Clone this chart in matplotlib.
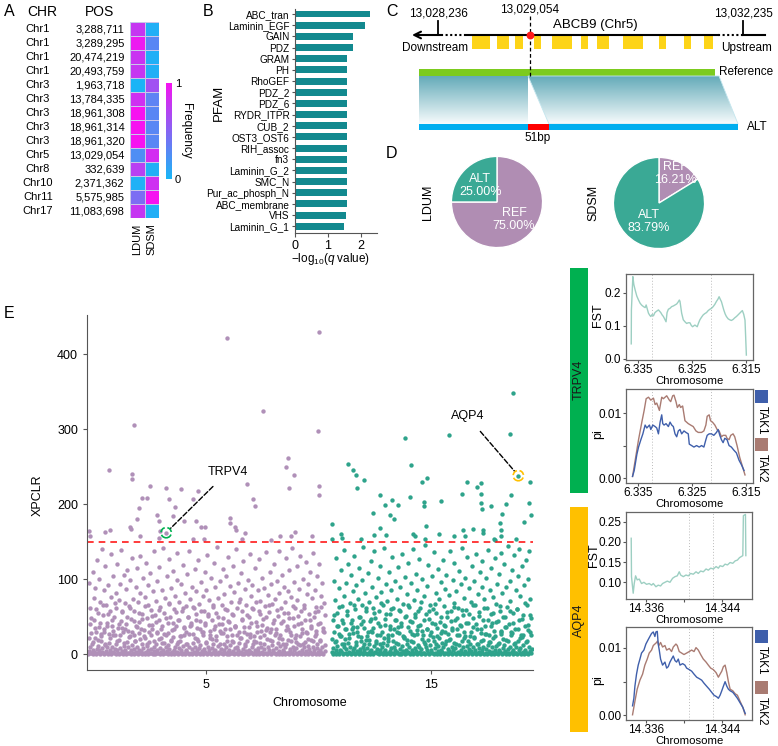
import numpy as np
import matplotlib.pyplot as plt
from matplotlib.patches import Rectangle, Polygon
from matplotlib.colors import LinearSegmentedColormap
from matplotlib.transforms import blended_transform_factory

W, H = 778, 746
plt.rcParams['font.family'] = ['Liberation Sans', 'DejaVu Sans']
plt.rcParams['mathtext.fontset'] = 'custom'
plt.rcParams['mathtext.rm'] = 'Liberation Sans'
plt.rcParams['mathtext.it'] = 'Liberation Sans:italic'

# ---------------- data ----------------
# A: ALT allele frequency of the shared variants
chr_names = ['Chr1', 'Chr1', 'Chr1', 'Chr1', 'Chr3', 'Chr3', 'Chr3', 'Chr3', 'Chr3',
             'Chr5', 'Chr8', 'Chr10', 'Chr11', 'Chr17']
positions = ['3,288,711', '3,289,295', '20,474,219', '20,493,759', '1,963,718', '13,784,335',
             '18,961,308', '18,961,314', '18,961,320', '13,029,054', '332,639', '2,371,362',
             '5,575,985', '11,083,698']
freq_ldum = [0.78, 0.95, 0.8, 0.78, 0.02, 0.82, 1.0, 1.0, 1.0, 0.25, 0.72, 0.04, 0.45, 0.78]
freq_sdsm = [0.05, 0.3, 0.05, 0.05, 0.62, 0.32, 0.3, 0.3, 0.3, 0.84, 0.05, 0.82, 1.0, 0.05]
groups = ['LDUM', 'SDSM']

# B: PFAM enrichment
pfam = ['ABC_tran', 'Laminin_EGF', 'GAIN', 'PDZ', 'GRAM', 'PH', 'RhoGEF', 'PDZ_2', 'PDZ_6',
        'RYDR_ITPR', 'CUB_2', 'OST3_OST6', 'RIH_assoc', 'fn3', 'Laminin_G_2', 'SMC_N',
        'Pur_ac_phosph_N', 'ABC_membrane', 'VHS', 'Laminin_G_1']
neg_log_q = [2.28, 2.12, 1.76, 1.76, 1.6, 1.6, 1.6, 1.6, 1.6, 1.6, 1.6, 1.6, 1.6, 1.6,
             1.6, 1.6, 1.6, 1.6, 1.55, 1.49]

# C: ABCB9 gene model (schematic units)
exon_start = [472, 497, 515, 534, 552, 581, 597, 623, 659, 684, 704]
exon_end = [490, 509, 523, 541, 572, 588, 609, 643, 666, 691, 713]

# D: allele proportions
ref_pct = [75.00, 16.21]
alt_pct = [25.00, 83.79]

# E: XP-CLR scan
pink_base = [
    0, 4, 1, 9, 2, 14, 0, 6, 3, 22, 1, 0, 7, 11, 2, 5, 0, 17, 3, 8, 1, 30, 0, 12, 4, 2, 9, 0, 15, 6,
    2, 0, 10, 3, 26, 1, 7, 0, 13, 5, 2, 19, 0, 8, 1, 4, 35, 0, 11, 3, 6, 0, 16, 2, 9, 1, 24, 0, 5, 12,
    1, 7, 0, 18, 3, 2, 10, 0, 6, 28, 1, 4, 14, 0, 8, 2, 21, 0, 3, 11, 5, 0, 16, 1, 7, 2, 33, 0, 9, 4,
    0, 13, 2, 6, 1, 20, 0, 8, 3, 15, 0, 5, 27, 1, 10, 2, 4, 0, 12, 7, 1, 18, 0, 3, 23, 6, 0, 9, 2, 14,
    3, 0, 8, 1, 17, 5, 0, 11, 2, 25, 0, 6, 4, 13, 1, 0, 9, 38, 2, 7, 0, 15, 3, 1, 10, 0, 20, 5, 2, 8,
    0, 12, 1, 4, 29, 0, 7, 3, 16, 1, 0, 10, 5, 2, 22, 0, 8, 1, 13, 4, 0, 6, 19, 2, 0, 11, 3, 31, 1, 7,
    2, 0, 14, 5, 1, 9, 0, 24, 3, 6, 0, 12, 2, 17, 1, 4, 0, 8, 36, 2, 10, 0, 5, 15, 1, 3, 21, 0, 7, 2,
    0, 11, 4, 1, 18, 0, 6, 2, 27, 3, 9, 0, 13, 1, 5, 0, 16, 2, 8, 4, 0, 23, 1, 10, 3, 0, 7, 14, 2, 32,
    1, 0, 9, 5, 2, 19, 0, 12, 3, 6, 1, 26, 0, 8, 2, 15, 0, 4, 11, 1, 0, 20, 6, 3, 9, 0, 13, 2, 34, 1,
    0, 7, 4, 17, 1, 10, 0, 5, 22, 2, 8, 0, 14, 3, 1, 12, 0, 6, 28, 2, 9, 0, 16, 4, 1, 11, 0, 7, 3, 19,
    2, 0, 10, 5, 1, 24, 0, 8, 13, 3, 0, 6, 18, 2, 1, 9, 0, 30, 4, 12]
green_base = [
    3, 0, 8, 1, 16, 5, 0, 11, 2, 27, 0, 6, 4, 13, 1, 0, 9, 20, 2, 7, 0, 15, 3, 1, 10, 0, 33, 5, 2, 8,
    0, 12, 1, 4, 24, 0, 7, 3, 17, 1, 0, 10, 5, 2, 19, 0, 8, 1, 13, 4, 0, 6, 29, 2, 0, 11, 3, 15, 1, 7,
    2, 0, 14, 5, 1, 9, 0, 22, 3, 6, 0, 12, 2, 18, 1, 4, 0, 8, 26, 2, 10, 0, 5, 15, 1, 3, 36, 0, 7, 2,
    0, 11, 4, 1, 21, 0, 6, 2, 13, 3, 9, 0, 17, 1, 5, 0, 25, 2, 8, 4, 0, 12, 1, 10, 3, 0, 7, 31, 2, 16,
    1, 0, 9, 5, 2, 19, 0, 12, 3, 6, 1, 23, 0, 8, 2, 14, 0, 4, 11, 1, 0, 28, 6, 3, 9, 0, 13, 2, 18, 1,
    0, 7, 4, 20, 1, 10, 0, 5, 15, 2, 8, 0, 34, 3, 1, 12, 0, 6, 17, 2, 9, 0, 24, 4, 1, 11, 0, 7, 3, 14,
    4, 1, 0, 9, 22, 2, 6, 0, 13, 1, 8, 3, 0, 18, 5, 1, 10, 0, 27, 2, 7, 0, 12, 4, 1, 16, 0, 9, 3, 21,
    0, 5, 2, 11, 1, 0, 15, 6, 3, 30, 0, 8, 1, 12, 4, 0, 19, 2, 7, 1, 0, 10, 25, 3, 0, 6, 14, 1, 9, 2,
    0, 17, 5, 1, 8, 0, 23, 3, 12, 0, 6, 2, 16, 1, 0, 10, 4, 29, 2, 7]
pink_span = (-0.22, 10.3)
green_span = (10.58, 19.45)

pink_low = [
    (-0.18, 22), (-0.1, 48), (0.0, 16), (0.07, 35), (0.15, 60), (0.22, 19), (0.3, 42), (0.37, 27),
    (0.45, 66), (0.52, 14), (0.6, 38), (0.68, 53), (0.75, 21), (0.83, 45), (0.9, 31), (0.98, 68),
    (1.05, 18), (1.13, 40), (1.2, 26), (1.28, 57), (1.35, 15), (1.43, 34), (1.5, 50), (1.57, 23),
    (1.65, 62), (1.72, 29), (1.8, 44), (1.87, 17), (1.95, 36), (2.02, 55), (2.1, 20), (2.17, 47),
    (2.25, 32), (2.32, 64), (2.4, 13), (2.47, 39), (2.55, 25), (2.62, 51), (2.7, 18), (2.77, 43),
    (2.85, 30), (2.92, 59), (3.0, 22), (3.07, 37), (3.15, 15), (3.22, 48), (3.3, 28), (3.37, 67),
    (3.45, 19), (3.52, 41), (3.6, 33), (3.67, 56), (3.75, 16), (3.82, 45), (3.9, 24), (3.97, 61),
    (4.05, 35), (4.12, 14), (4.2, 50), (4.27, 27), (4.35, 39), (4.42, 63), (4.5, 21), (4.57, 46),
    (4.65, 17), (4.72, 34), (4.8, 58), (4.87, 26), (4.95, 42), (5.02, 15), (5.1, 53), (5.17, 31),
    (5.25, 20), (5.32, 65), (5.4, 37), (5.47, 24), (5.55, 49), (5.62, 13), (5.7, 40), (5.77, 28),
    (5.85, 60), (5.92, 18), (6.0, 44), (6.07, 33), (6.15, 54), (6.22, 16), (6.3, 38), (6.37, 25),
    (6.45, 69), (6.52, 21), (6.6, 47), (6.67, 30), (6.75, 14), (6.82, 52), (6.9, 36), (6.97, 23),
    (7.05, 62), (7.12, 18), (7.2, 43), (7.27, 29), (7.35, 57), (7.42, 15), (7.5, 39), (7.57, 26),
    (7.65, 50), (7.72, 20), (7.8, 66), (7.87, 34), (7.95, 17), (8.02, 45), (8.1, 28), (8.17, 59),
    (8.25, 22), (8.32, 41), (8.4, 13), (8.47, 55), (8.55, 32), (8.62, 19), (8.7, 48), (8.77, 26),
    (8.85, 64), (8.92, 37), (9.0, 16), (9.07, 51), (9.15, 24), (9.22, 42), (9.3, 14), (9.37, 61),
    (9.45, 30), (9.52, 20), (9.6, 46), (9.67, 35), (9.75, 17), (9.82, 56), (9.9, 27), (9.97, 40),
    (10.05, 19), (10.12, 63), (10.2, 31)]
pink_mid = [
    (-0.2, 95), (-0.15, 40), (-0.12, 62), (-0.08, 28), (-0.02, 110), (0.03, 75), (0.05, 45), (0.1, 88),
    (0.12, 30), (0.18, 125), (0.2, 55), (0.25, 36), (0.28, 100), (0.32, 70), (0.36, 24), (0.4, 140),
    (0.42, 52), (0.47, 85), (0.5, 33), (0.55, 118), (0.58, 66), (0.62, 42), (0.66, 92), (0.7, 27),
    (0.73, 58), (0.78, 134), (0.8, 76), (0.85, 38), (0.88, 104), (0.92, 49), (0.96, 25), (1.0, 82),
    (1.03, 61), (1.08, 120), (1.1, 35), (1.15, 72), (1.18, 94), (1.22, 44), (1.25, 139), (1.3, 56),
    (1.33, 29), (1.38, 106), (1.4, 68), (1.45, 40), (1.48, 87), (1.52, 112), (1.55, 31), (1.6, 64),
    (1.64, 99), (1.68, 47), (1.72, 128), (1.75, 73), (1.8, 26), (1.83, 58), (1.88, 90), (1.9, 37),
    (1.95, 115), (2.0, 69), (2.03, 43), (2.08, 131), (2.1, 81), (2.14, 34), (2.18, 54), (2.22, 102),
    (2.26, 24), (2.3, 76), (2.35, 122), (2.38, 48), (2.42, 66), (2.45, 92), (2.5, 30), (2.53, 108),
    (2.58, 59), (2.62, 39), (2.65, 84), (2.7, 137), (2.73, 52), (2.78, 71), (2.82, 28), (2.85, 97),
    (2.9, 45), (2.94, 116), (2.98, 63), (3.02, 33), (3.06, 86), (3.1, 142), (3.14, 55), (3.18, 75),
    (3.22, 26), (3.26, 104), (3.3, 41), (3.35, 68), (3.38, 127), (3.42, 50), (3.46, 88), (3.5, 32),
    (3.54, 111), (3.58, 60), (3.62, 77), (3.66, 38), (3.7, 99), (3.74, 135), (3.78, 46), (3.82, 70),
    (3.86, 24), (3.9, 93), (3.94, 57), (3.98, 119), (4.02, 36), (4.06, 82), (4.1, 64), (4.14, 29),
    (4.18, 107), (4.22, 49), (4.26, 138), (4.3, 73), (4.34, 42), (4.38, 90), (4.42, 27), (4.46, 61),
    (4.5, 114), (4.54, 53), (4.58, 84), (4.62, 35), (4.66, 125), (4.7, 67), (4.74, 44), (4.78, 96),
    (4.82, 30), (4.86, 78), (4.9, 58), (4.94, 109), (4.98, 39), (5.02, 86), (5.06, 132), (5.1, 51),
    (5.14, 72), (5.18, 25), (5.22, 101), (5.26, 46), (5.3, 63), (5.34, 121), (5.38, 34), (5.42, 89),
    (5.46, 55), (5.5, 143), (5.54, 75), (5.58, 40), (5.62, 97), (5.66, 28), (5.7, 66), (5.74, 113),
    (5.78, 48), (5.82, 80), (5.86, 33), (5.9, 104), (5.94, 59), (5.98, 129), (6.02, 43), (6.06, 91),
    (6.1, 70), (6.14, 26), (6.18, 117), (6.22, 52), (6.26, 83), (6.3, 37), (6.34, 140), (6.38, 62),
    (6.42, 95), (6.46, 30), (6.5, 74), (6.54, 108), (6.58, 45), (6.62, 57), (6.66, 124), (6.7, 36),
    (6.74, 87), (6.78, 65), (6.82, 27), (6.86, 99), (6.9, 50), (6.94, 133), (6.98, 78), (7.02, 41),
    (7.06, 92), (7.1, 60), (7.14, 24), (7.18, 115), (7.22, 69), (7.26, 38), (7.3, 85), (7.34, 127),
    (7.38, 53), (7.42, 71), (7.46, 31), (7.5, 102), (7.54, 47), (7.58, 88), (7.62, 64), (7.66, 136),
    (7.7, 35), (7.74, 79), (7.78, 56), (7.82, 110), (7.86, 29), (7.9, 94), (7.94, 67), (7.98, 42),
    (8.02, 120), (8.06, 74), (8.1, 33), (8.14, 98), (8.18, 51), (8.22, 138), (8.26, 81), (8.3, 26),
    (8.34, 62), (8.38, 106), (8.42, 44), (8.46, 90), (8.5, 70), (8.54, 128), (8.58, 37), (8.62, 84),
    (8.66, 55), (8.7, 112), (8.74, 30), (8.78, 76), (8.82, 141), (8.86, 48), (8.9, 96), (8.94, 61),
    (8.98, 25), (9.02, 118), (9.06, 72), (9.1, 40), (9.14, 87), (9.18, 131), (9.22, 58), (9.26, 34),
    (9.3, 100), (9.34, 66), (9.38, 45), (9.42, 123), (9.46, 80), (9.5, 28), (9.54, 93), (9.58, 54),
    (9.62, 109), (9.66, 38), (9.7, 75), (9.74, 135), (9.78, 49), (9.82, 86), (9.86, 63), (9.9, 31),
    (9.94, 104), (9.98, 57), (10.02, 120), (10.06, 42), (10.1, 78), (10.14, 95), (10.18, 35),
    (10.22, 68), (10.26, 52)]
pink_top = [
    (5.92, 422), (10.01, 430), (7.55, 324), (1.83, 305), (9.96, 297), (0.69, 246), (1.73, 240),
    (1.73, 234), (8.66, 262), (8.54, 249), (8.89, 239), (8.70, 222), (2.51, 224), (3.23, 222),
    (3.91, 220), (4.63, 218), (6.83, 227), (2.15, 208), (2.39, 208), (3.38, 207), (4.42, 207),
    (7.09, 207), (7.18, 198), (2.02, 195), (3.65, 196), (2.83, 186), (3.56, 184), (1.96, 180),
    (2.93, 177), (4.02, 177), (4.56, 177), (1.65, 170), (1.67, 167), (4.97, 169), (4.79, 170),
    (6.05, 181), (6.07, 175), (6.31, 169), (6.33, 166), (6.74, 162), (-0.17, 164), (-0.15, 157),
    (0.51, 163), (0.73, 166), (2.08, 158), (2.95, 164), (3.24, 162), (2.90, 155), (4.44, 153),
    (4.90, 154), (8.29, 157), (8.77, 158), (8.97, 163), (6.60, 153), (10.02, 224), (10.02, 212),
    (9.7, 158), (7.9, 152)]
green_low = [
    (10.6, 20), (10.67, 52), (10.75, 17), (10.82, 38), (10.9, 63), (10.97, 24), (11.05, 45),
    (11.12, 14), (11.2, 33), (11.27, 58), (11.35, 21), (11.42, 41), (11.5, 28), (11.57, 66),
    (11.65, 16), (11.72, 36), (11.8, 50), (11.87, 23), (11.95, 44), (12.02, 13), (12.1, 61),
    (12.17, 30), (12.25, 19), (12.32, 47), (12.4, 35), (12.47, 55), (12.55, 18), (12.62, 42),
    (12.7, 26), (12.77, 68), (12.85, 15), (12.92, 39), (13.0, 53), (13.07, 22), (13.15, 34),
    (13.22, 60), (13.3, 17), (13.37, 46), (13.45, 29), (13.52, 14), (13.6, 57), (13.67, 37),
    (13.75, 24), (13.82, 49), (13.9, 19), (13.97, 65), (14.05, 31), (14.12, 43), (14.2, 16),
    (14.27, 54), (14.35, 27), (14.42, 38), (14.5, 62), (14.57, 20), (14.65, 45), (14.72, 13),
    (14.8, 33), (14.87, 58), (14.95, 25), (15.02, 41), (15.1, 18), (15.17, 67), (15.25, 35),
    (15.32, 22), (15.4, 50), (15.47, 15), (15.55, 39), (15.62, 29), (15.7, 56), (15.77, 19),
    (15.85, 44), (15.92, 32), (16.0, 63), (16.07, 14), (16.15, 48), (16.22, 26), (16.3, 37),
    (16.37, 59), (16.45, 21), (16.52, 42), (16.6, 17), (16.67, 53), (16.75, 30), (16.82, 66),
    (16.9, 23), (16.97, 40), (17.05, 14), (17.12, 51), (17.2, 34), (17.27, 19), (17.35, 61),
    (17.42, 27), (17.5, 45), (17.57, 16), (17.65, 38), (17.72, 55), (17.8, 24), (17.87, 43),
    (17.95, 13), (18.02, 64), (18.1, 31), (18.17, 20), (18.25, 49), (18.32, 36), (18.4, 18),
    (18.47, 57), (18.55, 28), (18.62, 41), (18.7, 15), (18.77, 60), (18.85, 33), (18.92, 22),
    (19.0, 47), (19.07, 26), (19.15, 68), (19.22, 17), (19.3, 39), (19.37, 52), (19.43, 25)]
green_mid = [
    (10.62, 45), (10.66, 98), (10.7, 30), (10.74, 72), (10.78, 128), (10.82, 55), (10.86, 38),
    (10.9, 88), (10.94, 24), (10.98, 112), (11.02, 64), (11.06, 42), (11.1, 139), (11.14, 77),
    (11.18, 33), (11.22, 95), (11.26, 52), (11.3, 120), (11.34, 27), (11.38, 68), (11.42, 105),
    (11.46, 46), (11.5, 84), (11.54, 36), (11.58, 131), (11.62, 60), (11.66, 92), (11.7, 29),
    (11.74, 74), (11.78, 115), (11.82, 50), (11.86, 40), (11.9, 99), (11.94, 66), (11.98, 143),
    (12.02, 35), (12.06, 81), (12.1, 57), (12.14, 24), (12.18, 108), (12.22, 70), (12.26, 44),
    (12.3, 124), (12.34, 31), (12.38, 89), (12.42, 61), (12.46, 137), (12.5, 48), (12.54, 76),
    (12.58, 26), (12.62, 102), (12.66, 58), (12.7, 38), (12.74, 118), (12.78, 83), (12.82, 30),
    (12.86, 65), (12.9, 141), (12.94, 47), (12.98, 93), (13.02, 71), (13.06, 25), (13.1, 110),
    (13.14, 54), (13.18, 37), (13.22, 86), (13.26, 129), (13.3, 62), (13.34, 33), (13.38, 97),
    (13.42, 45), (13.46, 74), (13.5, 116), (13.54, 28), (13.58, 59), (13.62, 90), (13.66, 41),
    (13.7, 134), (13.74, 67), (13.78, 23), (13.82, 103), (13.86, 51), (13.9, 80), (13.94, 36),
    (13.98, 122), (14.02, 63), (14.06, 44), (14.1, 95), (14.14, 27), (14.18, 140), (14.22, 72),
    (14.26, 49), (14.3, 107), (14.34, 32), (14.38, 85), (14.42, 58), (14.46, 127), (14.5, 39),
    (14.54, 69), (14.58, 100), (14.62, 25), (14.66, 78), (14.7, 145), (14.74, 53), (14.78, 34),
    (14.82, 91), (14.86, 119), (14.9, 47), (14.94, 66), (14.98, 29), (15.02, 104), (15.06, 60),
    (15.1, 136), (15.14, 40), (15.18, 82), (15.22, 55), (15.26, 24), (15.3, 113), (15.34, 73),
    (15.38, 43), (15.42, 96), (15.46, 31), (15.5, 126), (15.54, 64), (15.58, 87), (15.62, 37),
    (15.66, 106), (15.7, 50), (15.74, 27), (15.78, 79), (15.82, 138), (15.86, 57), (15.9, 35),
    (15.94, 99), (15.98, 68), (16.02, 121), (16.06, 45), (16.1, 84), (16.14, 26), (16.18, 62),
    (16.22, 111), (16.26, 39), (16.3, 93), (16.34, 142), (16.38, 52), (16.42, 75), (16.46, 30),
    (16.5, 102), (16.54, 59), (16.58, 130), (16.62, 42), (16.66, 88), (16.7, 24), (16.74, 70),
    (16.78, 117), (16.82, 48), (16.86, 36), (16.9, 97), (16.94, 65), (16.98, 133), (17.02, 33),
    (17.06, 80), (17.1, 56), (17.14, 109), (17.18, 28), (17.22, 90), (17.26, 124), (17.3, 46),
    (17.34, 73), (17.38, 38), (17.42, 101), (17.46, 61), (17.5, 139), (17.54, 25), (17.58, 85),
    (17.62, 53), (17.66, 115), (17.7, 41), (17.74, 76), (17.78, 31), (17.82, 128), (17.86, 67),
    (17.9, 94), (17.94, 44), (17.98, 107), (18.02, 58), (18.06, 135), (18.1, 27), (18.14, 82),
    (18.18, 49), (18.22, 120), (18.26, 36), (18.3, 89), (18.34, 63), (18.38, 144), (18.42, 40),
    (18.46, 98), (18.5, 71), (18.54, 29), (18.58, 112), (18.62, 55), (18.66, 132), (18.7, 34),
    (18.74, 86), (18.78, 60), (18.82, 104), (18.86, 45), (18.9, 140), (18.94, 77), (18.98, 26),
    (19.02, 118), (19.06, 52), (19.1, 92), (19.14, 38), (19.18, 125), (19.22, 66), (19.26, 100),
    (19.3, 32), (19.34, 137), (19.38, 74), (19.42, 48)]
green_top = [
    (18.63, 348), (18.47, 294), (13.84, 288), (15.78, 292), (18.85, 238), (11.28, 254),
    (11.52, 245), (11.64, 239), (11.71, 222), (11.99, 232), (14.07, 252), (14.82, 235),
    (14.60, 229), (16.58, 230), (17.19, 228), (17.03, 223), (16.34, 213), (17.2, 214),
    (19.38, 229), (18.53, 212), (18.30, 200), (19.34, 201), (19.41, 186), (19.12, 176),
    (18.14, 187), (18.02, 175), (18.06, 165), (18.08, 158), (17.64, 198), (17.2, 202),
    (17.22, 193), (12.70, 212), (14.06, 210), (12.96, 199), (13.26, 205), (13.51, 199),
    (12.40, 188), (13.14, 185), (13.33, 180), (14.68, 203), (14.66, 198), (15.44, 204),
    (14.75, 171), (10.61, 173), (12.74, 168), (16.40, 165), (16.86, 167), (17.3, 166),
    (17.28, 162), (16.5, 158), (15.34, 160), (14.2, 160), (14.25, 158), (11.0, 160),
    (11.02, 155), (10.61, 153), (11.89, 154), (12.45, 159), (13.0, 159), (14.7, 154),
    (15.99, 158), (18.75, 153), (17.75, 154), (17.8, 152)]
threshold = 150
trpv4_hit = (3.24, 162)
aqp4_hit = (18.85, 238)

# E right: FST / pi around the candidate genes (position in Mb)
trpv4_fst = [
    (6.33623, 0.045), (6.33620, 0.148), (6.33593, 0.249), (6.33575, 0.225), (6.3355, 0.208),
    (6.3352, 0.19), (6.33488, 0.178), (6.33458, 0.168), (6.33427, 0.162), (6.33396, 0.158),
    (6.33366, 0.155), (6.33347, 0.163), (6.33325, 0.150), (6.33304, 0.138), (6.33282, 0.132),
    (6.33261, 0.128), (6.33237, 0.134), (6.33212, 0.130), (6.33188, 0.139), (6.33163, 0.143),
    (6.3312, 0.148), (6.33077, 0.140), (6.33052, 0.133), (6.33028, 0.128), (6.33003, 0.120),
    (6.32979, 0.112), (6.32960, 0.140), (6.32936, 0.150), (6.32905, 0.153), (6.32875, 0.158),
    (6.32844, 0.160), (6.32813, 0.163), (6.32782, 0.166), (6.32755, 0.172), (6.32733, 0.178),
    (6.32721, 0.174), (6.3269, 0.138), (6.3266, 0.118), (6.32629, 0.112), (6.32598, 0.107),
    (6.32568, 0.109), (6.32537, 0.109), (6.32512, 0.101), (6.32488, 0.097), (6.32445, 0.102),
    (6.32402, 0.097), (6.32378, 0.108), (6.32353, 0.118), (6.32322, 0.126), (6.32291, 0.133),
    (6.3226, 0.137), (6.3223, 0.140), (6.32199, 0.146), (6.32168, 0.150), (6.32137, 0.153),
    (6.32107, 0.158), (6.32076, 0.165), (6.32046, 0.174), (6.32021, 0.180), (6.31997, 0.188),
    (6.31975, 0.180), (6.31954, 0.173), (6.31911, 0.148), (6.31886, 0.136), (6.31862, 0.128),
    (6.3183, 0.121), (6.318, 0.118), (6.3177, 0.116), (6.31739, 0.119), (6.31708, 0.124),
    (6.31677, 0.128), (6.31646, 0.133), (6.31616, 0.138), (6.31592, 0.142), (6.31567, 0.146),
    (6.31542, 0.135), (6.31518, 0.117), (6.31506, 0.067), (6.31493, 0.011)]
trpv4_pi_tak1 = [
    (6.33599, 0.00032), (6.33568, 0.00122), (6.33519, 0.00369), (6.33488, 0.00482),
    (6.33445, 0.00595), (6.33408, 0.00685), (6.33366, 0.0082), (6.33335, 0.00775),
    (6.33286, 0.0082), (6.33261, 0.00752), (6.33224, 0.0082), (6.33181, 0.00797),
    (6.33151, 0.00775), (6.3312, 0.00685), (6.33089, 0.00865), (6.33059, 0.00977),
    (6.3304, 0.00842), (6.33016, 0.0082), (6.32979, 0.00842), (6.32936, 0.00797),
    (6.32905, 0.00865), (6.32874, 0.0082), (6.32844, 0.00797), (6.32813, 0.00685),
    (6.32782, 0.0064), (6.32752, 0.0073), (6.32721, 0.00752), (6.3269, 0.00685),
    (6.32647, 0.0073), (6.32611, 0.00707), (6.32568, 0.00685), (6.32549, 0.00527),
    (6.32506, 0.00505), (6.32463, 0.00482), (6.32414, 0.00505), (6.32365, 0.00482),
    (6.32322, 0.00505), (6.32279, 0.00482), (6.32242, 0.00595), (6.32218, 0.00662),
    (6.32181, 0.00685), (6.32138, 0.00685), (6.32095, 0.00662), (6.32046, 0.00707),
    (6.32015, 0.00752), (6.31984, 0.00662), (6.31954, 0.00595), (6.31923, 0.0055),
    (6.31892, 0.00617), (6.3185, 0.00595), (6.31813, 0.00505), (6.3177, 0.00482),
    (6.31727, 0.00437), (6.31677, 0.00392), (6.31628, 0.00279), (6.31585, 0.00212),
    (6.31536, 0.00122)]
trpv4_pi_tak2 = [
    (6.33599, 0.0003), (6.3355, 0.00279), (6.33488, 0.00595), (6.33427, 0.00865),
    (6.33384, 0.01045), (6.33347, 0.01225), (6.33304, 0.01248), (6.33261, 0.01203),
    (6.33212, 0.01234), (6.33181, 0.01135), (6.33151, 0.01158), (6.33102, 0.01045),
    (6.33059, 0.01248), (6.33028, 0.01225), (6.32997, 0.01248), (6.32967, 0.0127),
    (6.32918, 0.01203), (6.32893, 0.0118), (6.32856, 0.0127), (6.32832, 0.01279),
    (6.32795, 0.0118), (6.3277, 0.0109), (6.32733, 0.01135), (6.32709, 0.0109),
    (6.32672, 0.01113), (6.32629, 0.00887), (6.32568, 0.00842), (6.32524, 0.0082),
    (6.32476, 0.00797), (6.32426, 0.0073), (6.32383, 0.00707), (6.32322, 0.00707),
    (6.32279, 0.0073), (6.32242, 0.0082), (6.32218, 0.00955), (6.32181, 0.00977),
    (6.32156, 0.00887), (6.3212, 0.00865), (6.32076, 0.0082), (6.32034, 0.00752),
    (6.31997, 0.0073), (6.31954, 0.0064), (6.31923, 0.00662), (6.31874, 0.00662),
    (6.3185, 0.00617), (6.31813, 0.00595), (6.31782, 0.00662), (6.31739, 0.00685),
    (6.31708, 0.0064), (6.31665, 0.00505), (6.31616, 0.00324), (6.31567, 0.00189),
    (6.31518, 0.00054)]
aqp4_fst = [
    (14.33445, 0.209), (14.33448, 0.114), (14.33466, 0.073), (14.33477, 0.097), (14.33491, 0.116),
    (14.33508, 0.106), (14.3353, 0.108), (14.33554, 0.097), (14.33579, 0.100), (14.33607, 0.095),
    (14.33635, 0.097), (14.3366, 0.093), (14.33678, 0.097), (14.33706, 0.089), (14.3373, 0.093),
    (14.33755, 0.091), (14.33776, 0.097), (14.33801, 0.100), (14.33826, 0.103), (14.33854, 0.100),
    (14.33882, 0.110), (14.33907, 0.114), (14.33931, 0.116), (14.33952, 0.126), (14.33967, 0.118),
    (14.33995, 0.114), (14.34023, 0.118), (14.34048, 0.116), (14.34072, 0.122), (14.341, 0.120),
    (14.34129, 0.126), (14.34153, 0.122), (14.34178, 0.128), (14.34206, 0.126), (14.34235, 0.133),
    (14.34259, 0.130), (14.34284, 0.135), (14.34312, 0.133), (14.34341, 0.139), (14.34365, 0.135),
    (14.34383, 0.141), (14.34411, 0.139), (14.34436, 0.145), (14.34461, 0.143), (14.34489, 0.149),
    (14.34517, 0.147), (14.34542, 0.153), (14.34566, 0.155), (14.34588, 0.161), (14.34602, 0.163),
    (14.34623, 0.166), (14.34629, 0.265), (14.34651, 0.268), (14.34655, 0.166)]
aqp4_pi_tak1 = [
    (14.33459, 0.00142), (14.33473, 0.00253), (14.33484, 0.00431), (14.33501, 0.00609),
    (14.33519, 0.00742), (14.33537, 0.00831), (14.33554, 0.0092), (14.33579, 0.00964),
    (14.336, 0.01053), (14.33625, 0.0112), (14.33642, 0.01164), (14.3366, 0.01209),
    (14.33678, 0.01231), (14.33695, 0.01164), (14.33706, 0.01231), (14.3372, 0.0124),
    (14.3373, 0.01053), (14.33741, 0.00964), (14.33755, 0.00831), (14.33776, 0.00742),
    (14.33801, 0.00787), (14.33819, 0.00698), (14.33836, 0.0072), (14.33854, 0.00787),
    (14.33871, 0.00831), (14.33889, 0.00876), (14.33907, 0.00809), (14.33924, 0.00787),
    (14.33942, 0.00831), (14.3396, 0.00742), (14.33988, 0.00764), (14.34012, 0.00742),
    (14.3403, 0.00698), (14.34058, 0.00676), (14.34083, 0.00653), (14.34108, 0.00609),
    (14.34136, 0.00564), (14.34164, 0.00542), (14.34189, 0.0052), (14.34213, 0.00476),
    (14.34241, 0.00431), (14.34269, 0.00387), (14.34294, 0.00342), (14.34319, 0.00298),
    (14.34347, 0.00276), (14.34365, 0.00253), (14.34383, 0.00298), (14.34401, 0.00364),
    (14.34418, 0.00431), (14.34436, 0.00498), (14.34454, 0.00431), (14.34471, 0.00387),
    (14.34489, 0.00364), (14.34517, 0.00342), (14.34542, 0.00298), (14.34566, 0.00253),
    (14.34594, 0.00187), (14.34623, 0.0012), (14.34648, 0.00031)]
aqp4_pi_tak2 = [
    (14.33459, 0.0001), (14.33484, 0.00209), (14.33508, 0.00387), (14.33537, 0.0052),
    (14.33565, 0.00609), (14.33589, 0.00742), (14.33614, 0.00831), (14.33635, 0.0092),
    (14.3366, 0.00964), (14.33678, 0.01031), (14.33695, 0.01053), (14.33713, 0.01076),
    (14.33723, 0.01098), (14.33737, 0.01031), (14.33755, 0.01076), (14.33776, 0.01009),
    (14.33801, 0.01031), (14.33819, 0.00964), (14.33847, 0.00987), (14.33871, 0.00942),
    (14.33889, 0.01009), (14.33917, 0.01053), (14.33931, 0.01031), (14.33952, 0.00942),
    (14.33977, 0.0092), (14.34002, 0.00898), (14.3403, 0.0092), (14.34058, 0.00942),
    (14.34083, 0.00964), (14.34108, 0.00942), (14.34129, 0.01), (14.34153, 0.00964),
    (14.34178, 0.00898), (14.34206, 0.00831), (14.34235, 0.00787), (14.34259, 0.00742),
    (14.34284, 0.00698), (14.34312, 0.00676), (14.34341, 0.00631), (14.34365, 0.00564),
    (14.34383, 0.00609), (14.34401, 0.00653), (14.34418, 0.0072), (14.34436, 0.00742),
    (14.34454, 0.00631), (14.34471, 0.00498), (14.34489, 0.00387), (14.34517, 0.00364),
    (14.34542, 0.0032), (14.34566, 0.00298), (14.34594, 0.00209), (14.34623, 0.0012),
    (14.34648, 0.0001)]
trpv4_marks = [6.3323, 6.3214]
aqp4_marks = [14.3406, 14.3431]

# colours
ref_color = '#b08db3'
alt_color = '#3aa995'
pink = '#b090b8'
green = '#2ea38b'
fst_color = '#9dcfc2'
tak1_color = '#3f5fab'
tak2_color = '#a97b72'

fig = plt.figure(figsize=(W / 100, H / 100), dpi=100)


def box(x0, y0, x1, y1):
    return [x0 / W, 1 - y1 / H, (x1 - x0) / W, (y1 - y0) / H]


# overlay in pixel units for letters, schematic and labels
ov = fig.add_axes([0, 0, 1, 1])
ov.axis('off')

for letter, (lx, ly) in zip('ABCDE', [(4, 12), (203, 12), (386, 12), (386, 153), (4, 313)]):
    ov.text(lx, ly, letter, fontsize=11.5, ha='left', va='center')

# ---------------- A ----------------
cmap = LinearSegmentedColormap.from_list('freq', ['#17b7f6', '#f612f0'])
axA = fig.add_axes(box(130, 22, 159, 218))
heat = np.column_stack([freq_ldum, freq_sdsm])
mesh = axA.pcolormesh(heat, cmap=cmap, vmin=0, vmax=1, edgecolors='#c8c6ea', linewidth=0.4)
axA.set_xlim(0, 2)
axA.set_ylim(len(chr_names), 0)
axA.set_xticks([0.5, 1.5])
axA.set_xticklabels(groups, rotation=90, fontsize=8)
axA.set_yticks(np.arange(len(chr_names)) + 0.5)
axA.set_yticklabels(positions, fontsize=8)
axA.tick_params(length=0, pad=4)
for s in axA.spines.values():
    s.set_visible(False)
trA = blended_transform_factory(fig.transFigure, axA.transData)
for i, c in enumerate(chr_names):
    axA.text(38 / W, i + 0.5, c, transform=trA, ha='center', va='center', fontsize=8)
ov.text(42, 12, 'CHR', fontsize=10, ha='center', va='center')
ov.text(100, 12, 'POS', fontsize=10, ha='center', va='center')
cax = fig.add_axes(box(166, 83, 172, 179))
cb = fig.colorbar(mesh, cax=cax, ticks=[0, 1])
cb.outline.set_visible(False)
cax.tick_params(length=0, labelsize=8, pad=2)
ov.text(186, 131, 'Frequency', rotation=-90, fontsize=8.5, ha='center', va='center')

# ---------------- B ----------------
axB = fig.add_axes(box(295, 9, 377, 233))
axB.barh(np.arange(len(pfam)), neg_log_q, height=0.62, color='#12898f')
axB.set_ylim(len(pfam) - 0.4, -0.45)
axB.set_xlim(0, 2.5)
axB.set_yticks(np.arange(len(pfam)))
axB.set_yticklabels(pfam, fontsize=7.2)
axB.set_xticks([0, 1, 2])
axB.tick_params(axis='x', labelsize=9, length=3, color='#555555', pad=2)
axB.tick_params(axis='y', length=2, pad=2, color='#555555')
for side in ['top', 'right']:
    axB.spines[side].set_visible(False)
for side in ['left', 'bottom']:
    axB.spines[side].set_color('#555555')
ov.text(219, 103, 'PFAM', rotation=90, fontsize=9.5, ha='center', va='center')
ov.text(331, 259, r'$-\mathrm{log}_{10}(q\ \mathrm{value})$', fontsize=8.5, ha='center', va='center')

# ---------------- C ----------------
ov.annotate('', xy=(412, 35), xytext=(441, 35),
            arrowprops=dict(arrowstyle='->', color='black', lw=1.5, mutation_scale=12,
                            shrinkA=0, shrinkB=0))
ov.plot([441, 467], [35, 35], color='black', lw=1.5, ls=(0, (1, 1.2)))
ov.plot([467, 718], [35, 35], color='black', lw=1.5)
ov.plot([718, 743], [35, 35], color='black', lw=1.5, ls=(0, (1, 1.2)))
ov.plot([743, 765], [35, 35], color='black', lw=1.5)
ov.plot([438, 438], [21, 35], color='black', lw=1.3)
ov.plot([743, 743], [21, 35], color='black', lw=1.3)
for s, e in zip(exon_start, exon_end):
    ov.add_patch(Rectangle((s, 36), e - s, 13, color='#fdd418', lw=0))
ov.plot([530, 530], [16, 77], color='black', lw=0.9, ls=(0, (3, 2)))
ov.scatter([530], [35], s=32, color='#ff1a1a', zorder=5, lw=0)
ov.text(438, 14, '13,028,236', fontsize=8.5, ha='center', va='center')
ov.text(530, 9, '13,029,054', fontsize=8.5, ha='center', va='center')
ov.text(743, 14, '13,032,235', fontsize=8.5, ha='center', va='center')
ov.text(595, 25, 'ABCB9 (Chr5)', fontsize=9.5, ha='center', va='center')
ov.text(435, 48, 'Downstream', fontsize=8.5, ha='center', va='center')
ov.text(747, 48, 'Upstream', fontsize=8.5, ha='center', va='center')

ov.add_patch(Rectangle((419, 69), 296, 7, color='#7ccb1e', lw=0))
grad_cmap = LinearSegmentedColormap.from_list('grad', ['#f7fbfc', '#64abb9'])
grad = np.linspace(1, 0, 120)[:, None]
left_part = [(419, 76), (528, 76), (528, 124), (419, 124)]
right_part = [(528, 76), (719, 76), (738, 124), (549, 124)]
for verts in (left_part, right_part):
    im = ov.imshow(grad, extent=[419, 738, 124, 76], cmap=grad_cmap, aspect='auto',
                   interpolation='bilinear', zorder=1)
    im.set_clip_path(Polygon(verts, closed=True, transform=ov.transData))
ov.add_patch(Polygon(right_part, closed=True, fill=False, edgecolor='#c4e6ee', lw=0.6))
ov.add_patch(Rectangle((419, 124), 319, 6, color='#00aeef', lw=0, zorder=2))
ov.add_patch(Rectangle((528, 124), 21, 6, color='#ff0000', lw=0, zorder=3))
ov.text(746, 72, 'Reference', fontsize=8.5, ha='center', va='center')
ov.text(757, 127, 'ALT', fontsize=8.5, ha='center', va='center')
ov.text(538, 138, '51bp', fontsize=8.5, ha='center', va='center')

# ---------------- D ----------------
pie_boxes = [box(440, 145, 554, 259), box(602, 146, 716, 260)]
label_pos = [(428, 202), (593, 203)]
text_radius = [(0.53, 0.52), (0.73, 0.47)]
for i in range(2):
    axp = fig.add_axes(pie_boxes[i])
    wedges, _ = axp.pie([ref_pct[i], alt_pct[i]], colors=[ref_color, alt_color], startangle=90,
                        counterclock=False, wedgeprops=dict(edgecolor='white', linewidth=1))
    axp.set_aspect('equal')
    for w, name, pct, r in zip(wedges, ['REF', 'ALT'], [ref_pct[i], alt_pct[i]], text_radius[i]):
        ang = np.deg2rad((w.theta1 + w.theta2) / 2)
        axp.text(r * np.cos(ang), r * np.sin(ang), f'{name}\n{pct:.2f}%', color='white',
                 fontsize=9, ha='center', va='center', linespacing=1.1)
    ov.text(label_pos[i][0], label_pos[i][1], groups[i], rotation=90, fontsize=9,
            ha='center', va='center')

# ---------------- E: XP-CLR ----------------
axE = fig.add_axes(box(87, 315, 533, 670))
pink_x = np.linspace(pink_span[0], pink_span[1], len(pink_base))
green_x = np.linspace(green_span[0], green_span[1], len(green_base))
for bx, by, low, mid, top, col in [(pink_x, pink_base, pink_low, pink_mid, pink_top, pink),
                                   (green_x, green_base, green_low, green_mid, green_top, green)]:
    axE.scatter(bx, by, s=10, color=col, lw=0)
    for pts in (low, mid, top):
        axE.scatter([p[0] for p in pts], [p[1] for p in pts], s=10, color=col, lw=0)
axE.axhline(threshold, color='#ff1a1a', lw=1.2, ls=(0, (4, 3)))
axE.scatter([trpv4_hit[0]], [trpv4_hit[1]], s=55, facecolors='none', edgecolors='#00b050',
            linewidths=1.2, linestyles='--', zorder=5)
axE.scatter([aqp4_hit[0]], [aqp4_hit[1]], s=55, facecolors='none', edgecolors='#ffc000',
            linewidths=1.2, linestyles='--', zorder=5)
axE.annotate('TRPV4', xy=trpv4_hit, xytext=(5.97, 243), fontsize=9, ha='center', va='center',
             arrowprops=dict(arrowstyle='-', linestyle='--', color='black', lw=1,
                             shrinkA=6, shrinkB=4))
axE.annotate('AQP4', xy=aqp4_hit, xytext=(16.59, 317), fontsize=9, ha='center', va='center',
             arrowprops=dict(arrowstyle='-', linestyle='--', color='black', lw=1,
                             shrinkA=6, shrinkB=4))
axE.set_xlim(-0.27, 19.5)
axE.set_ylim(-21, 452)
axE.set_xticks([5, 15])
axE.set_yticks([0, 100, 200, 300, 400])
axE.tick_params(labelsize=9, length=3, color='#555555')
for side in ['top', 'right']:
    axE.spines[side].set_visible(False)
for side in ['left', 'bottom']:
    axE.spines[side].set_color('#555555')
ov.text(38, 495, 'XPCLR', rotation=90, fontsize=9, ha='center', va='center')
ov.text(310, 703, 'Chromosome', fontsize=9, ha='center', va='center')

# ---------------- E: FST / pi panels ----------------
ov.add_patch(Rectangle((570, 268), 18, 225, color='#00b050', lw=0))
ov.text(579, 380, 'TRPV4', rotation=90, fontsize=9, ha='center', va='center', color='#1a1a1a')
ov.add_patch(Rectangle((570, 507), 18, 225, color='#ffc000', lw=0))
ov.text(579, 620, 'AQP4', rotation=90, fontsize=9, ha='center', va='center', color='#1a1a1a')


def line_panel(rect, xlim, xticks, xlabels, ylim, yticks, ylabels, marks):
    ax = fig.add_axes(box(*rect))
    ax.set_xlim(*xlim)
    ax.set_ylim(*ylim)
    ax.set_xticks(xticks)
    ax.set_xticklabels(xlabels)
    ax.set_yticks(yticks)
    ax.set_yticklabels(ylabels)
    ax.tick_params(labelsize=8.5, length=2.5, color='#555555', pad=1)
    ax.tick_params(axis='x', pad=0.5)
    for s in ax.spines.values():
        s.set_color('#666666')
        s.set_linewidth(0.9)
    for m in marks:
        ax.axvline(m, color='#bbbbbb', lw=0.7, ls=(0, (1, 2)))
    return ax


trpv4_xlim = (6.3372, 6.3137)
trpv4_ticks = [6.335, 6.325, 6.315]
trpv4_labels = ['6.335', '6.325', '6.315']
aqp4_xlim = (14.3339, 14.3472)
aqp4_ticks = [14.336, 14.340, 14.344]
aqp4_labels = ['14.336', '', '14.344']
pi_ticks = [0, 0.005, 0.01]
pi_labels = ['0.00', '', '0.01']

ax1 = line_panel((626, 274, 753, 360), trpv4_xlim, trpv4_ticks, trpv4_labels, (-0.004, 0.257),
                 [0, 0.1, 0.2], ['0.0', '0.1', '0.2'], trpv4_marks)
ax1.plot(*zip(*trpv4_fst), color=fst_color, lw=1)
ax2 = line_panel((626, 389, 753, 483), trpv4_xlim, trpv4_ticks, trpv4_labels, (-0.0007, 0.01374),
                 pi_ticks, pi_labels, trpv4_marks)
ax2.plot(*zip(*trpv4_pi_tak2), color=tak2_color, lw=1)
ax2.plot(*zip(*trpv4_pi_tak1), color=tak1_color, lw=1)
ax3 = line_panel((626, 512, 752, 599), aqp4_xlim, aqp4_ticks, aqp4_labels, (0.0587, 0.274),
                 [0.10, 0.15, 0.20, 0.25], ['0.10', '0.15', '0.20', '0.25'], aqp4_marks)
ax3.plot(*zip(*aqp4_fst), color=fst_color, lw=1)
ax4 = line_panel((626, 627, 752, 720), aqp4_xlim, aqp4_ticks, aqp4_labels, (-0.00067, 0.01304),
                 pi_ticks, pi_labels, aqp4_marks)
ax4.plot(*zip(*aqp4_pi_tak2), color=tak2_color, lw=1)
ax4.plot(*zip(*aqp4_pi_tak1), color=tak1_color, lw=1)

for ylab, yy, xx in [('FST', 315, 598), ('pi', 434, 598), ('FST', 555, 594), ('pi', 680, 598)]:
    ov.text(xx, yy, ylab, rotation=90, fontsize=9, ha='center', va='center')
for yy in [381, 504, 620, 741]:
    ov.text(690, yy, 'Chromosome', fontsize=8.2, ha='center', va='center')

# TAK legends
for top in [390, 630]:
    ov.add_patch(Rectangle((755, top), 13, 13, color=tak1_color, lw=0))
    ov.text(762, top + 30, 'TAK1', rotation=-90, fontsize=8.5, ha='center', va='center')
for top in [438, 681]:
    ov.add_patch(Rectangle((755, top), 13, 13, color=tak2_color, lw=0))
    ov.text(762, top + 30, 'TAK2', rotation=-90, fontsize=8.5, ha='center', va='center')

ov.set_xlim(0, W)
ov.set_ylim(H, 0)

fig.savefig('out.png', dpi=100)
